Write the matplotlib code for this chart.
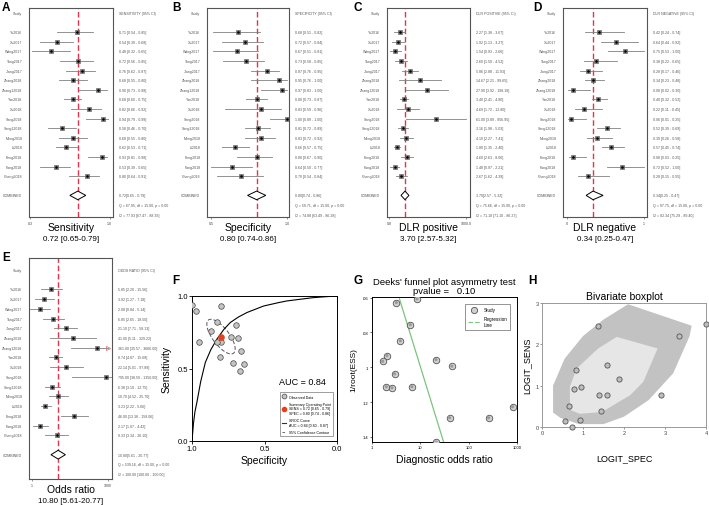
# meta-analysis summary figure: forest plots, SROC, Deeks funnel, bivariate boxplot
import numpy as np
import matplotlib.pyplot as plt
from matplotlib.patches import Polygon, Ellipse
from matplotlib.lines import Line2D

plt.rcParams['font.family'] = ['Liberation Sans', 'DejaVu Sans']

studies = ['Yu2016', 'Xu2017', 'Wang2017', 'Tang2017', 'Jiang2017', 'Zhang2018',
           'Zhang12018', 'Yan2018', 'Xu2018', 'Song2018', 'Song12018', 'Meng2018',
           'Li2018', 'Feng2018', 'Fang2018', 'Cheng2018']

# sensitivity
sens_est = [0.71, 0.54, 0.48, 0.72, 0.76, 0.68, 0.90, 0.68, 0.82, 0.94, 0.58, 0.68, 0.62, 0.93, 0.53, 0.80]
sens_lo = [0.54, 0.39, 0.32, 0.56, 0.62, 0.55, 0.73, 0.60, 0.66, 0.79, 0.46, 0.55, 0.53, 0.81, 0.39, 0.64]
sens_hi = [0.85, 0.68, 0.65, 0.85, 0.87, 0.80, 0.98, 0.75, 0.92, 0.99, 0.70, 0.80, 0.71, 0.98, 0.65, 0.91]
sens_pool = [0.72, 0.65, 0.79]
sens_stats = ['Q = 67.95, df = 15.00, p = 0.00', 'I2 = 77.93 [67.47 - 88.39]']

# specificity
spec_est = [0.68, 0.72, 0.67, 0.73, 0.87, 0.95, 0.97, 0.80, 0.83, 1.00, 0.81, 0.83, 0.66, 0.80, 0.64, 0.70]
spec_lo = [0.51, 0.57, 0.51, 0.58, 0.76, 0.76, 0.83, 0.73, 0.59, 0.89, 0.72, 0.72, 0.57, 0.67, 0.50, 0.54]
spec_hi = [0.82, 0.84, 0.81, 0.85, 0.95, 1.00, 1.00, 0.87, 0.96, 1.00, 0.89, 0.92, 0.75, 0.90, 0.77, 0.84]
spec_pool = [0.80, 0.74, 0.86]
spec_stats = ['Q = 59.71, df = 15.00, p = 0.00', 'I2 = 74.88 [63.49 - 86.28]']

# positive likelihood ratio
dlrp_est = [2.27, 1.92, 1.54, 2.60, 5.86, 14.67, 27.90, 3.40, 4.69, 61.00, 3.16, 4.10, 1.80, 4.60, 1.48, 2.67]
dlrp_lo = [1.38, 1.13, 0.93, 1.50, 2.88, 2.21, 3.92, 2.41, 1.72, 3.89, 1.98, 2.27, 1.35, 2.63, 0.97, 1.62]
dlrp_hi = [3.67, 3.27, 2.66, 4.52, 11.93, 99.65, 198.18, 4.80, 12.80, 956.95, 5.03, 7.41, 2.40, 8.06, 2.21, 4.39]
dlrp_pool = [3.70, 2.57, 5.32]
dlrp_stats = ['Q = 75.66, df = 15.00, p = 0.00', 'I2 = 71.10 [71.10 - 86.27]']

# negative likelihood ratio
dlrn_est = [0.42, 0.64, 0.75, 0.38, 0.28, 0.34, 0.08, 0.40, 0.22, 0.06, 0.52, 0.39, 0.57, 0.08, 0.72, 0.28]
dlrn_lo = [0.24, 0.44, 0.53, 0.22, 0.17, 0.23, 0.02, 0.32, 0.11, 0.01, 0.39, 0.26, 0.45, 0.03, 0.52, 0.15]
dlrn_hi = [0.74, 0.92, 1.00, 0.65, 0.46, 0.48, 0.30, 0.52, 0.45, 0.25, 0.69, 0.58, 0.74, 0.25, 1.00, 0.55]
dlrn_pool = [0.34, 0.25, 0.47]
dlrn_stats = ['Q = 97.75, df = 15.00, p = 0.00', 'I2 = 82.34 [75.29 - 89.40]']

# diagnostic odds ratio
dor_est = [5.85, 3.02, 2.08, 6.85, 21.10, 41.00, 361.00, 8.74, 22.14, 795.00, 6.38, 10.70, 3.23, 46.00, 2.17, 9.33]
dor_lo = [2.20, 1.27, 0.84, 2.65, 7.71, 5.11, 35.57, 4.87, 5.01, 38.59, 3.19, 4.52, 2.22, 13.38, 1.07, 3.34]
dor_hi = [15.56, 7.18, 5.14, 18.50, 58.13, 329.22, 3666.00, 15.68, 97.89, 1350.00, 12.75, 25.70, 5.66, 158.06, 4.42, 26.10]
dor_pool = [10.80, 5.61, 20.77]
dor_stats = ['Q = 539.16, df = 15.00, p = 0.00', 'I2 = 100.00 [100.00 - 100.00]']

# SROC curve (specificity, sensitivity)
sroc_spec = [1.0, 0.99, 0.98, 0.966, 0.94, 0.908, 0.87, 0.828, 0.78, 0.736, 0.68, 0.621, 0.506, 0.40, 0.345, 0.25, 0.161, 0.08, 0.0]
sroc_sens = [0.0, 0.12, 0.20, 0.268, 0.41, 0.542, 0.63, 0.703, 0.77, 0.817, 0.855, 0.886, 0.931, 0.955, 0.966, 0.978, 0.989, 0.995, 1.0]
auc_text = 'AUC = 0.84'

# Deeks funnel plot
funnel_dor = [3.19, 8.52, 6.2, 3.86, 2.04, 1.66, 21.0, 45.0, 2.94, 1.98, 2.59, 6.7, 40.4, 258.0, 812.0, 21.3]
funnel_ess = [0.0629, 0.0608, 0.0756, 0.0848, 0.0933, 0.0966, 0.0956, 0.0994, 0.1038, 0.1112, 0.1118, 0.1112, 0.1290, 0.1290, 0.1227, 0.1429]
reg_dor = [3.7, 30.4]
reg_ess = [0.0608, 0.143]

# bivariate boxplot
logit_spec = [0.72, 0.57, 0.92, 0.65, 0.77, 0.96, 0.84, 1.37, 1.59, 1.87, 1.39, 1.59, 1.45, 2.91, 3.33, 4.0]
logit_sens = [0.0, 0.145, 0.16, 0.52, 0.91, 0.97, 1.39, 2.44, 1.49, 1.15, 0.77, 0.77, 0.38, 0.77, 2.2, 2.5]
outer_x = [0.27, 0.27, 0.55, 1.0, 1.5, 2.1, 3.65, 3.6, 3.2, 2.6, 2.0, 1.5, 0.9, 0.45]
outer_y = [0.35, 1.0, 1.65, 2.2, 2.6, 2.97, 2.45, 2.2, 1.3, 0.65, 0.25, 0.07, 0.07, 0.22]
inner_x = [0.68, 0.68, 0.84, 1.37, 1.82, 2.82, 2.47, 2.15, 1.66, 1.45, 0.92, 0.72]
inner_y = [0.52, 0.97, 1.41, 1.9, 2.18, 1.9, 1.09, 0.77, 0.48, 0.36, 0.32, 0.40]

W, H = 709, 506
fig = plt.figure(figsize=(W / 100, H / 100), dpi=100)


def px_rect(x0, y0, x1, y1):
    return [x0 / W, 1 - y1 / H, (x1 - x0) / W, (y1 - y0) / H]


def forest(rect, est, lo, hi, pool, head, stats, title, xlim, ticks, ticklabels,
           log=False, top=-0.52, bottom=21.25, cap=None):
    ax = fig.add_axes(rect)
    if log:
        ax.set_xscale('log')
    ax.set_xlim(*xlim)
    ax.set_ylim(bottom, top)
    rows = np.arange(len(est)) + 2
    tr = ax.get_yaxis_transform()
    for r, name, e, l, h in zip(rows, studies, est, lo, hi):
        h2 = h
        if cap is not None and h > cap[0]:
            h2 = cap[1]
            ax.plot(h2, r, marker='>', ms=3, mfc='none', mec='#e06070', mew=0.5)
        ax.plot([l, h2], [r, r], color='#808080', lw=0.6)
        ax.plot(e, r, marker='s', ms=3.4, mfc='#8c8c8c', mec='#505050', mew=0.4)
        ax.plot(e, r, marker='o', ms=0.9, color='k')
        ax.text(-0.08, r, name, transform=tr, ha='right', va='center', fontsize=2.6, color='#555')
        ax.text(1.07, r, f'{e:.2f} [{l:.2f} - {h:.2f}]', transform=tr, ha='left',
                va='center', fontsize=2.6, color='#555')
    ax.text(-0.08, 0, 'Study', transform=tr, ha='right', va='center', fontsize=2.6, color='#555')
    ax.text(1.07, 0, head, transform=tr, ha='left', va='center', fontsize=2.6, color='#555')
    # pooled diamond
    rc = 19
    ax.add_patch(Polygon([[pool[1], rc], [pool[0], rc - 0.45], [pool[2], rc], [pool[0], rc + 0.45]],
                         closed=True, fc='white', ec='black', lw=0.7, zorder=3))
    ax.text(-0.08, rc, 'COMBINED', transform=tr, ha='right', va='center', fontsize=2.6, color='#555')
    ax.text(1.07, rc, f'{pool[0]:.2f}[{pool[1]:.2f} - {pool[2]:.2f}]', transform=tr,
            ha='left', va='center', fontsize=2.6, color='#555')
    ax.text(1.07, 20, stats[0], transform=tr, ha='left', va='center', fontsize=2.6, color='#555')
    ax.text(1.07, 21, stats[1], transform=tr, ha='left', va='center', fontsize=2.6, color='#555')
    ax.axvline(pool[0], color='#e2334f', lw=1.0, dashes=(4, 2), zorder=1)
    ax.set_yticks([])
    ax.set_xticks(ticks)
    ax.set_xticklabels(ticklabels)
    ax.minorticks_off()
    ax.tick_params(axis='x', labelsize=2.6, length=1.5, width=0.4, pad=1.5, colors='#444')
    for s in ax.spines.values():
        s.set_color('#555')
        s.set_linewidth(0.8)
    ax.annotate(title, xy=(0.5, 0), xycoords='axes fraction', xytext=(0, -7.5),
                textcoords='offset points', ha='center', va='center', fontsize=7.5)
    ax.annotate(f'{pool[0]:.2f} [{pool[1]:.2f}-{pool[2]:.2f}]', xy=(0.5, 0), xycoords='axes fraction',
                xytext=(0, -15.5), textcoords='offset points', ha='center', va='center', fontsize=5.8)
    return ax


forest(px_rect(29, 9, 113, 218), sens_est, sens_lo, sens_hi, sens_pool, 'SENSITIVITY (95% CI)',
       sens_stats, 'Sensitivity', (0.29, 1.03), [0.3, 1.0], ['0.3', '1.0'])
forest(px_rect(207, 9, 289, 218), spec_est, spec_lo, spec_hi, spec_pool, 'SPECIFICITY (95% CI)',
       spec_stats, 'Specificity', (0.473, 1.013), [0.5, 1.0], ['0.5', '1.0'])
forest(px_rect(387, 9, 470, 218), dlrp_est, dlrp_lo, dlrp_hi, dlrp_pool, 'DLR POSITIVE (95% CI)',
       dlrp_stats, 'DLR positive', (0.71, 1445), [0.85, 1000], ['0.8', '1000.0'], log=True)
forest(px_rect(563, 9, 647, 218), dlrn_est, dlrn_lo, dlrn_hi, dlrn_pool, 'DLR NEGATIVE (95% CI)',
       dlrn_stats, 'DLR negative', (-0.05, 1.04), [0, 1], ['0', '1'])
forest(px_rect(29, 259, 112, 480), dor_est, dor_lo, dor_hi, dor_pool, 'ODDS RATIO (95% CI)',
       dor_stats, 'Odds ratio', (0.77, 1410), [1, 1000], ['1', '1000'], log=True,
       top=-1.23, bottom=21.5, cap=(2000, 1000))

# F: SROC
axf = fig.add_axes(px_rect(192, 297, 337, 442))
axf.plot(sroc_spec, sroc_sens, color='black', lw=0.8)
axf.add_patch(Ellipse((spec_pool[0], sens_pool[0]), 0.287, 0.115, angle=53, fill=False,
                      ec='#555', lw=0.7, ls=(0, (4, 2))))
axf.scatter(spec_est, sens_est, s=16, fc='#c4c4c4', ec='#444', lw=0.5, zorder=3)
axf.scatter([spec_pool[0]], [sens_pool[0]], s=14, c='#e8401c', marker='o', zorder=4)
axf.set_xlim(1.0, 0.0)
axf.set_ylim(0.0, 1.0)
axf.set_xticks([1.0, 0.5, 0.0])
axf.set_yticks([0.0, 0.5, 1.0])
axf.set_xticklabels(['1.0', '0.5', '0.0'])
axf.set_yticklabels(['0.0', '0.5', '1.0'])
axf.tick_params(labelsize=5.5, length=2, width=0.6, pad=1)
axf.set_xlabel('Specificity', fontsize=7.5, labelpad=2)
axf.set_ylabel('Sensitivity', fontsize=7.5, labelpad=4)
for s in axf.spines.values():
    s.set_linewidth(0.7)
axf.text(0.92, 0.41, auc_text, transform=axf.transAxes, ha='right', va='center', fontsize=6.5)
handles = [Line2D([], [], ls='', marker='o', ms=3.5, mfc='#c4c4c4', mec='#444', mew=0.5),
           Line2D([], [], ls='', marker='o', ms=3, mfc='#e8401c', mec='#e8401c'),
           Line2D([], [], color='#333', lw=0.8),
           Line2D([], [], color='#555', lw=0.6, ls=(0, (3, 2)))]
labels = ['Observed Data',
          f'Summary Operating Point\nSENS = {sens_pool[0]:.2f} [{sens_pool[1]:.2f} - {sens_pool[2]:.2f}]\n'
          f'SPEC = {spec_pool[0]:.2f} [{spec_pool[1]:.2f} - {spec_pool[2]:.2f}]',
          'SROC Curve\nAUC = 0.84 [0.80 - 0.87]',
          '95% Confidence Contour']
axf.legend(handles, labels, loc='lower right', fontsize=2.6, frameon=True, fancybox=False,
           edgecolor='#555', borderpad=0.6, labelspacing=0.9, handlelength=1.2,
           bbox_to_anchor=(0.985, 0.02)).get_frame().set_linewidth(0.5)

# G: Deeks funnel plot
axg = fig.add_axes(px_rect(372, 298, 517, 443))
axg.scatter(funnel_dor, funnel_ess, s=22, fc='#d0d0d0', ec='#555', lw=0.6, zorder=3)
axg.scatter(funnel_dor, funnel_ess, s=5, fc='#999', ec='none', zorder=4)
axg.plot(reg_dor, reg_ess, color='#7cc47c', lw=0.9)
axg.set_xscale('log')
axg.set_xlim(1, 1000)
axg.set_ylim(0.1429, 0.0597)
axg.set_xticks([1, 10, 100, 1000])
axg.set_xticklabels(['1', '10', '100', '1000'])
axg.set_yticks([0.06, 0.08, 0.10, 0.12, 0.14])
axg.set_yticklabels(['.06', '.08', '.1', '.12', '.14'])
axg.minorticks_off()
axg.tick_params(labelsize=3, length=1.5, width=0.4, pad=1)
axg.set_xlabel('Diagnostic odds ratio', fontsize=7.5, labelpad=3)
axg.set_ylabel('1/root(ESS)', fontsize=6, labelpad=4)
axg.set_title("Deeks' funnel plot asymmetry test\npvalue =   0.10", fontsize=6.8, pad=3,
              linespacing=0.95)
for s in axg.spines.values():
    s.set_linewidth(0.7)
gh = [Line2D([], [], ls='', marker='o', ms=4.5, mfc='#d0d0d0', mec='#555', mew=0.6),
      Line2D([], [], color='#7cc47c', lw=0.8, ls=(0, (4, 2)))]
axg.legend(gh, ['Study', 'Regression\nLine'], loc='upper right', fontsize=3.3, frameon=True,
           fancybox=False, edgecolor='#444', borderpad=0.6, labelspacing=0.9, handlelength=2.6,
           bbox_to_anchor=(0.97, 0.965)).get_frame().set_linewidth(0.5)

# H: bivariate boxplot
axh = fig.add_axes(px_rect(542, 304, 706, 428))
axh.add_patch(Polygon(np.column_stack([outer_x, outer_y]), closed=True, fc='#c2c2c2', ec='none'))
axh.add_patch(Polygon(np.column_stack([inner_x, inner_y]), closed=True, fc='#e6e6e6', ec='none'))
axh.scatter(logit_spec, logit_sens, s=14, fc='#bdbdbd', ec='#555', lw=0.6, zorder=3, clip_on=False)
axh.set_xlim(0, 4)
axh.set_ylim(0, 3)
axh.set_xticks([0, 1, 2, 3, 4])
axh.set_yticks([0, 1, 2, 3])
axh.tick_params(labelsize=4, length=1.5, width=0.4, pad=1, colors='#444')
axh.set_xlabel('LOGIT_SPEC', fontsize=6.5, labelpad=13)
axh.set_ylabel('LOGIT_SENS', fontsize=6.5, labelpad=3)
axh.set_title('Bivariate boxplot', fontsize=7.5, pad=3)
for s in axh.spines.values():
    s.set_color('#999')
    s.set_linewidth(0.7)

# panel letters
for letter, x, y in [('A', 2, 2), ('B', 172, 2), ('C', 353, 2), ('D', 533, 2),
                     ('E', 2, 252), ('F', 172, 275), ('G', 353, 275), ('H', 528, 275)]:
    fig.text(x / W, 1 - y / H, letter, fontsize=8.5, fontweight='bold', ha='left', va='top')

fig.savefig('out.png', dpi=100)
